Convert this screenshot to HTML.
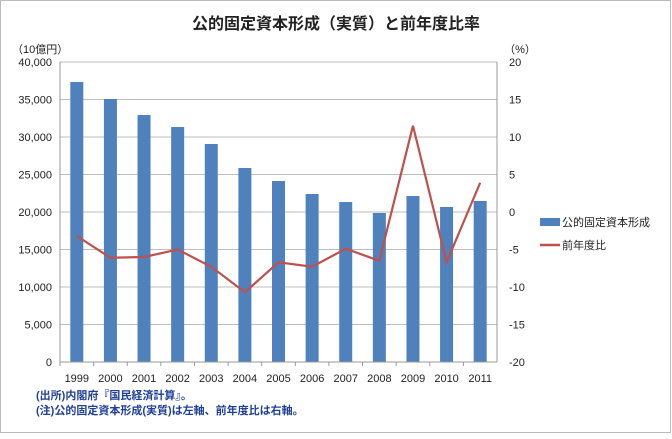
<!DOCTYPE html>
<html><head><meta charset="utf-8"><style>
body{margin:0;background:#fff}
svg text{font-family:"Liberation Sans","Noto Sans CJK JP",sans-serif}
</style></head><body>
<svg width="672" height="434" viewBox="0 0 672 434">
<rect x="0.5" y="0.5" width="670" height="432" fill="#fff" stroke="#bbb"/>
<text x="336" y="29" text-anchor="middle" font-size="16" font-weight="bold" fill="#222">公的固定資本形成（実質）と前年度比率</text>
<text x="12" y="53" font-size="11" fill="#222">（10億円）</text>
<text x="520" y="53" text-anchor="middle" font-size="11" fill="#222">（%）</text>
<g id="grid"></g><g id="bars"></g><g id="line"></g><g id="axes"></g>
<g>
<rect x="540" y="218" width="20" height="8" fill="#4F81BD"/>
<text x="562" y="226" font-size="11" fill="#222">公的固定資本形成</text>
<line x1="540" y1="245" x2="560" y2="245" stroke="#C0504D" stroke-width="2.5"/>
<text x="562" y="249" font-size="11" fill="#222">前年度比</text>
</g>
<text x="36" y="399" font-size="11" font-weight="bold" fill="#1F3F99">(出所)内閣府『国民経済計算』。</text>
<text x="36" y="414" font-size="11" font-weight="bold" fill="#1F3F99">(注)公的固定資本形成(実質)は左軸、前年度比は右軸。</text>
</svg>
<script>
const categories=["1999","2000","2001","2002","2003","2004","2005","2006","2007","2008","2009","2010","2011"];
const investment=[37330,35070,32930,31330,29070,25870,24130,22400,21330,19870,22130,20670,21470];
const yoy=[-3.2,-6.1,-6.0,-5.0,-7.3,-10.7,-6.7,-7.3,-4.9,-6.5,11.5,-6.7,3.9];
const leftTicks=[0,5000,10000,15000,20000,25000,30000,35000,40000];
const rightTicks=[-20,-15,-10,-5,0,5,10,15,20];
const NS="http://www.w3.org/2000/svg";
const X0=60,X1=497,Y0=362,Y1=62;
const band=(X1-X0)/categories.length;
const xc=i=>X0+band*(i+0.5);
const yl=v=>Y0-(v-0)/40000*(Y0-Y1);
const yr=v=>Y0-(v+20)/40*(Y0-Y1);
function mk(t,a,p){const e=document.createElementNS(NS,t);for(const k in a)e.setAttribute(k,a[k]);p.appendChild(e);return e;}
const grid=document.getElementById('grid'),bars=document.getElementById('bars'),line=document.getElementById('line'),axes=document.getElementById('axes');
leftTicks.forEach((v,i)=>{
 const y=yl(v);
 if(v>0){const g=mk('line',{x1:X0,x2:X1,y1:y,y2:y,stroke:'#bdbdbd','stroke-width':1},grid);
 
 }
 const t=mk('text',{x:X0-8,y:y+4,'text-anchor':'end','font-size':11,fill:'#222'},axes);t.textContent=v.toLocaleString('en-US');
 
 
});
rightTicks.forEach(v=>{
 const y=yr(v);
 const t=mk('text',{x:X1+12,y:y+4,'font-size':11,fill:'#222'},axes);t.textContent=v;
 
 
});
mk('line',{x1:X0,x2:X0,y1:Y1,y2:Y0,stroke:'#999'},axes);
mk('line',{x1:X1,x2:X1,y1:Y1,y2:Y0,stroke:'#999'},axes);
mk('line',{x1:X0,x2:X1,y1:Y0,y2:Y0,stroke:'#999'},axes);
categories.forEach((c,i)=>{
 const b=mk('rect',{x:xc(i)-6.5,y:yl(investment[i]),width:13,height:Y0-yl(investment[i]),fill:'#4F81BD'},bars);
 
 
 const t=mk('text',{x:xc(i),y:382,'text-anchor':'middle','font-size':11,fill:'#222'},axes);t.textContent=c;
 
 
 mk('line',{x1:X0+band*i,x2:X0+band*i,y1:Y0,y2:Y0+4,stroke:'#999'},axes);
});
const pl=mk('polyline',{points:yoy.map((v,i)=>xc(i)+','+yr(v)).join(' '),fill:'none',stroke:'#C0504D','stroke-width':2.2},line);


</script>
</body></html>
